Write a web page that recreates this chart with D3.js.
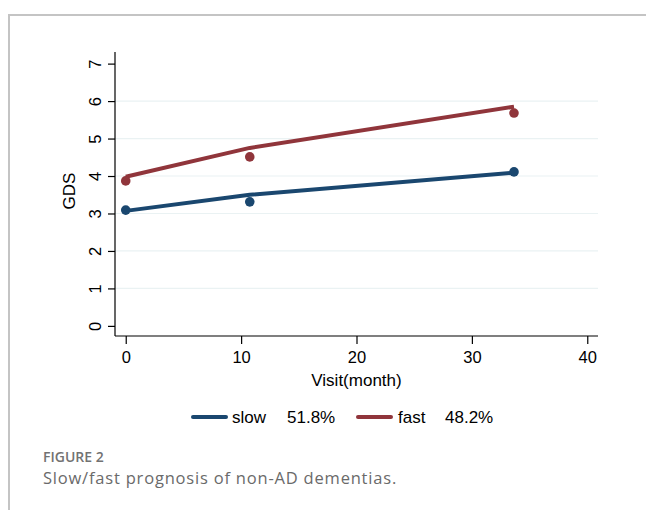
<!DOCTYPE html>
<html>
<head>
<meta charset="utf-8">
<script src="https://cdn.jsdelivr.net/npm/d3@7"></script>
<style>
  html, body { margin: 0; padding: 0; background: #fff; }
  svg { display: block; }
</style>
</head>
<body>
<svg id="chart" width="646" height="510"></svg>
<script>
// ---- data ----
const visits = [0, 10.75, 33.65];
const slowObserved = [3.09, 3.31, 4.11];
const fastObserved = [3.87, 4.51, 5.68];
const slowFitted = [3.07, 3.50, 4.09];
const fastFitted = [3.98, 4.75, 5.85];
const xTicks = [0, 10, 20, 30, 40];
const yTicks = [0, 1, 2, 3, 4, 5, 6, 7];
const gridTicks = [1, 2, 3, 4, 5, 6];
const groups = ["slow", "fast"];
const groupShares = ["51.8%", "48.2%"];
const xTitle = "Visit(month)";
const yTitle = "GDS";
const figLabel = "FIGURE 2";
const caption = "Slow/fast prognosis of non-AD dementias.";

const colors = { slow: "#1a476f", fast: "#90353b" };
const series = [
  { name: "slow", obs: slowObserved, fit: slowFitted, share: groupShares[0] },
  { name: "fast", obs: fastObserved, fit: fastFitted, share: groupShares[1] }
];

const svg = d3.select("#chart");
const font = "'Liberation Sans', Arial, sans-serif";

// frame border
svg.append("path")
  .attr("d", "M9,510 L9,15 L646,15")
  .attr("fill", "none")
  .attr("stroke", "#c4c4c4")
  .attr("stroke-width", 2);

const plotL = 115, plotR = 598, plotT = 52, plotB = 336;
const x = d3.scaleLinear().domain([-0.93, 40.93]).range([plotL, plotR]);
const y = d3.scaleLinear().domain([-0.27, 7.31]).range([plotB, plotT]);

// gridlines
svg.append("g").selectAll("line").data(gridTicks).join("line")
  .attr("x1", plotL).attr("x2", plotR)
  .attr("y1", d => y(d)).attr("y2", d => y(d))
  .attr("stroke", "#eaf2f3").attr("stroke-width", 1.2);

// y axis
const yAxis = svg.append("g").attr("transform", `translate(${plotL},0)`)
  .call(d3.axisLeft(y).tickValues(yTicks).tickSize(7).tickPadding(7).tickSizeOuter(0));
yAxis.select(".domain").attr("stroke", "#000").attr("stroke-width", 1.2)
  .attr("d", `M0,${plotB}V${plotT}`);
yAxis.selectAll(".tick line").attr("stroke", "#000").attr("stroke-width", 1.2);
yAxis.selectAll(".tick text")
  .attr("font-family", font).attr("font-size", 16.5).attr("fill", "#000")
  .attr("x", null).attr("dy", null)
  .attr("text-anchor", "middle")
  .attr("transform", "translate(-14,0) rotate(-90)")
  .attr("y", 0);

// x axis
const xAxis = svg.append("g").attr("transform", `translate(0,${plotB})`)
  .call(d3.axisBottom(x).tickValues(xTicks).tickSize(8).tickPadding(7).tickSizeOuter(0));
xAxis.select(".domain").attr("stroke", "#000").attr("stroke-width", 1.2)
  .attr("d", `M${plotL},0H${plotR}`);
xAxis.selectAll(".tick line").attr("stroke", "#000").attr("stroke-width", 1.2);
xAxis.selectAll(".tick text")
  .attr("font-family", font).attr("font-size", 16.5).attr("fill", "#000")
  .attr("dy", null).attr("y", 27);

// axis titles
svg.append("text")
  .attr("x", (x(0) + x(40)) / 2).attr("y", 386)
  .attr("text-anchor", "middle")
  .attr("font-family", font).attr("font-size", 17).attr("fill", "#000")
  .text(xTitle);
svg.append("text")
  .attr("transform", `translate(75,${(plotT + plotB) / 2 - 3}) rotate(-90)`)
  .attr("text-anchor", "middle")
  .attr("font-family", font).attr("font-size", 17).attr("fill", "#000")
  .text(yTitle);

// fitted lines
const line = d3.line().x((d, i) => x(visits[i])).y(d => y(d));
series.forEach(s => {
  svg.append("path")
    .datum(s.fit)
    .attr("d", line)
    .attr("fill", "none")
    .attr("stroke", colors[s.name])
    .attr("stroke-width", 4)
    .attr("stroke-linejoin", "round");
});
// observed points
series.forEach(s => {
  svg.append("g").selectAll("circle").data(s.obs).join("circle")
    .attr("cx", (d, i) => x(visits[i]))
    .attr("cy", d => y(d))
    .attr("r", 4.8)
    .attr("fill", colors[s.name]);
});

// legend
const legendY = 417;
const legendItems = [
  { s: series[0], lx: 193, tx: 232, px: 287 },
  { s: series[1], lx: 358, tx: 398, px: 445 }
];
legendItems.forEach(it => {
  svg.append("line")
    .attr("x1", it.lx).attr("x2", it.lx + 33)
    .attr("y1", legendY).attr("y2", legendY)
    .attr("stroke", colors[it.s.name]).attr("stroke-width", 4)
    .attr("stroke-linecap", "round");
  svg.append("text")
    .attr("x", it.tx).attr("y", legendY + 6)
    .attr("font-family", font).attr("font-size", 17).attr("fill", "#000")
    .text(it.s.name);
  svg.append("text")
    .attr("x", it.px).attr("y", legendY + 6)
    .attr("font-family", font).attr("font-size", 17).attr("fill", "#000")
    .text(it.s.share);
});

// caption
svg.append("text")
  .attr("x", 43).attr("y", 462)
  .attr("font-family", "'Open Sans', Lato, sans-serif")
  .attr("font-size", 14).attr("font-weight", 600).attr("fill", "#727272")
  .text(figLabel);
svg.append("text")
  .attr("x", 43).attr("y", 484)
  .attr("font-family", "'Open Sans', Lato, sans-serif")
  .attr("font-size", 16.5).attr("fill", "#6a6a6a")
  .attr("letter-spacing", 0.8)
  .text(caption);
</script>
</body>
</html>
